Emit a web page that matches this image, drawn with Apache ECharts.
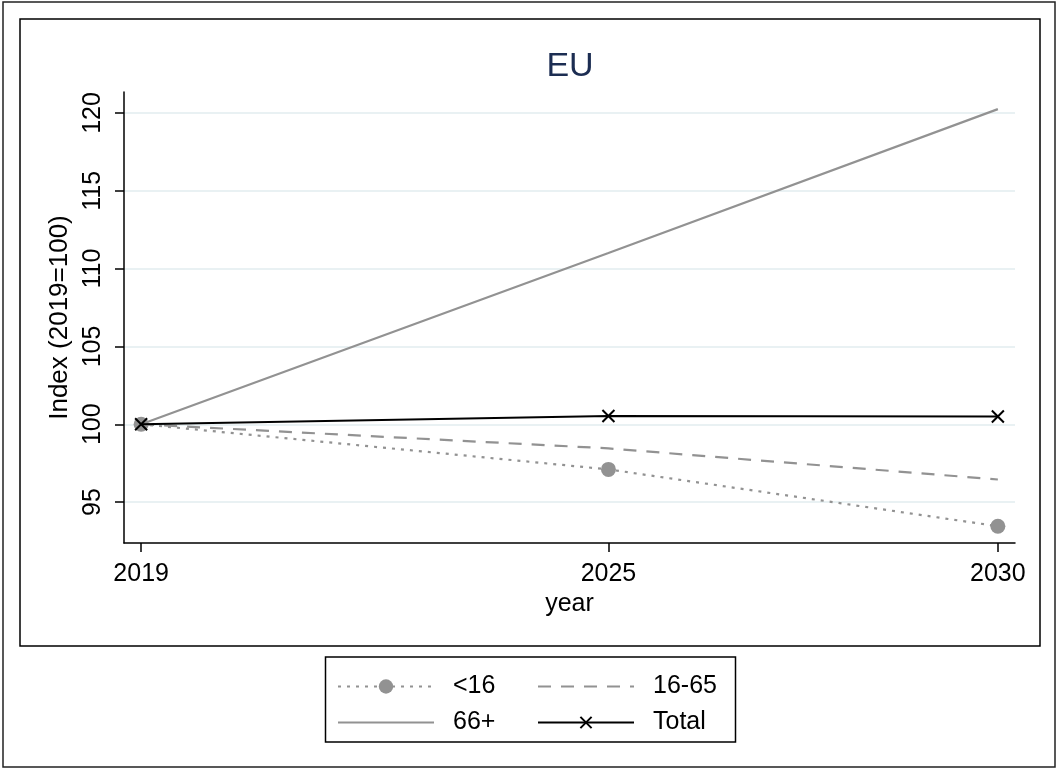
<!DOCTYPE html>
<html>
<head>
<meta charset="utf-8">
<script src="https://cdn.jsdelivr.net/npm/echarts@6/dist/echarts.min.js"></script>
<style>
html,body{margin:0;padding:0;background:#fff;}
#c{width:1058px;height:769px;}
</style>
</head>
<body>
<div id="c"></div>
<script>
const years = [2019, 2025, 2030];
const under16 = [100, 97.1, 93.45];
const age16to65 = [100, 98.45, 96.45];
const age66plus = [100, 111.0, 120.25];
const total = [100, 100.53, 100.5];
const yTicks = [95, 100, 105, 110, 115, 120];
const seriesNames = ['<16', '16-65', '66+', 'Total'];
const titleText = 'EU';

const FONT = '"Liberation Sans", Arial, sans-serif';
const GRAY = '#929292';
const pairs = arr => years.map((y, i) => [y, arr[i]]);
const X_PATH = 'path://M0 0L10 10M10 0L0 10';

const chart = echarts.init(document.getElementById('c'), null, {renderer: 'canvas'});

function legendAt(name, left, top, itemHeight, hideSymbol) {
  const item = hideSymbol ? {name: name, itemStyle: {opacity: 0}} : {name: name};
  return {
    data: [item], left: left, top: top, padding: 0, orient: 'horizontal',
    itemWidth: 96, itemHeight: itemHeight, selectedMode: false,
    textStyle: {fontFamily: FONT, fontSize: 25, color: '#000', padding: [0, 0, 0, 14]}
  };
}

const option = {
  backgroundColor: '#fff',
  animation: false,
  graphic: [
    {type: 'rect', shape: {x: 3, y: 2, width: 1052, height: 765}, style: {fill: 'none', stroke: '#222', lineWidth: 1.5}, silent: true},
    {type: 'rect', shape: {x: 20, y: 19, width: 1020, height: 627}, style: {fill: 'none', stroke: '#000', lineWidth: 1.5}, silent: true},
    {type: 'rect', shape: {x: 325.5, y: 657, width: 410, height: 85}, style: {fill: 'none', stroke: '#000', lineWidth: 1.5}, silent: true},
    {type: 'text', x: 570, y: 67, silent: true,
     style: {text: titleText, textAlign: 'center', textVerticalAlign: 'middle', fontFamily: FONT, fontSize: 34, fill: '#1c2d52'}}
  ],
  legend: [
    legendAt('<16', 337, 674, 18, false),
    legendAt('16-65', 537, 674, 18, true),
    legendAt('66+', 337, 710, 14, true),
    legendAt('Total', 537, 710, 14, false)
  ],
  grid: {left: 124, right: 43, top: 92, bottom: 226, containLabel: false},
  xAxis: {
    type: 'value', min: 2018.78, max: 2030.22,
    name: 'year', nameLocation: 'middle', nameGap: 45,
    nameTextStyle: {fontFamily: FONT, fontSize: 25, color: '#000'},
    axisLine: {show: true, onZero: false, lineStyle: {color: '#000', width: 1.5}},
    axisTick: {show: true, length: 9, customValues: years, lineStyle: {color: '#000', width: 1.5}},
    axisLabel: {customValues: years, margin: 19, fontFamily: FONT, fontSize: 25, color: '#000', formatter: v => String(v)},
    splitLine: {show: false}
  },
  yAxis: {
    type: 'value', min: 92.37, max: 121.35,
    name: 'Index (2019=100)', nameLocation: 'middle', nameGap: 42, nameRotate: 90,
    nameTextStyle: {fontFamily: FONT, fontSize: 26, color: '#000'},
    axisLine: {show: true, onZero: false, lineStyle: {color: '#000', width: 1.5}},
    axisTick: {show: true, length: 9, customValues: yTicks, lineStyle: {color: '#000', width: 1.5}},
    axisLabel: {customValues: yTicks, rotate: 90, margin: 18, fontFamily: FONT, fontSize: 25, color: '#000'},
    splitLine: {show: true, lineStyle: {color: '#e9f1f3', width: 2}}
  },
  series: [
    {
      name: seriesNames[0], type: 'line', data: pairs(under16),
      symbol: 'circle', symbolSize: 15,
      itemStyle: {color: GRAY},
      lineStyle: {color: GRAY, width: 2.2, type: [3, 6]},
      z: 3
    },
    {
      name: seriesNames[1], type: 'line', data: pairs(age16to65),
      symbol: 'none',
      itemStyle: {color: GRAY},
      lineStyle: {color: GRAY, width: 2.2, type: [13, 10]},
      z: 3
    },
    {
      name: seriesNames[2], type: 'line', data: pairs(age66plus),
      symbol: 'none',
      itemStyle: {color: GRAY},
      lineStyle: {color: GRAY, width: 2.2, type: 'solid'},
      z: 3
    },
    {
      name: seriesNames[3], type: 'line', data: pairs(total),
      symbol: X_PATH, symbolSize: 12,
      itemStyle: {color: '#000', borderColor: '#000', borderWidth: 2},
      lineStyle: {color: '#000', width: 2.2},
      z: 4
    }
  ]
};
chart.setOption(option);
</script>
</body>
</html>
